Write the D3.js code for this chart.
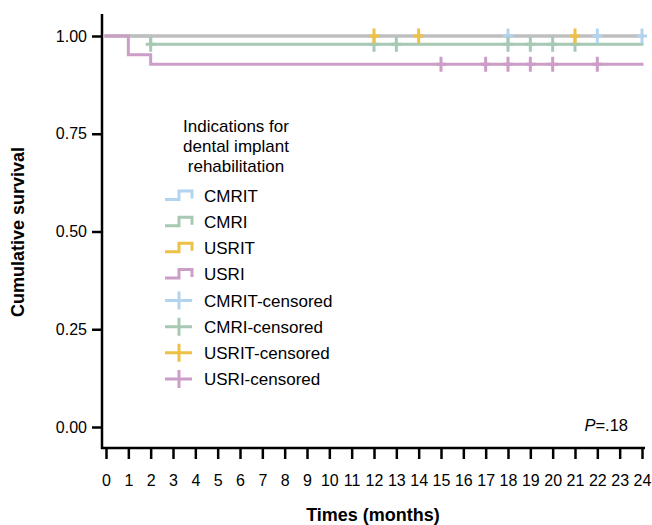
<!DOCTYPE html>
<html>
<head>
<meta charset="utf-8">
<script src="https://cdn.jsdelivr.net/npm/d3@7"></script>
<style>
  html, body { margin: 0; padding: 0; background: #fff; }
  svg { display: block; font-family: "Liberation Sans", Arial, Helvetica, sans-serif; }
</style>
</head>
<body>
<svg id="chart" width="652" height="525"></svg>
<script>
// ---------------- data ----------------
const xTickValues = [0,1,2,3,4,5,6,7,8,9,10,11,12,13,14,15,16,17,18,19,20,21,22,23,24];
const yTickValues = [0, 0.25, 0.5, 0.75, 1];
const followUpEnd = 24;

const seriesNames = ["CMRIT", "CMRI", "USRIT", "USRI"];

// step curves: event times and survival after each step
const cmritTimes = [0];
const cmritSurvival = [1.0];
const cmritCensored = [18, 22, 24];

const cmriTimes = [0, 2];
const cmriSurvival = [1.0, 0.979];
const cmriCensored = [2, 12, 13, 18, 19, 20, 21];

const usritTimes = [0];
const usritSurvival = [1.0];
const usritCensored = [12, 14, 21];

const usriTimes = [0, 1, 2];
const usriSurvival = [1.0, 0.952, 0.928];
const usriCensored = [15, 17, 18, 19, 20, 22];

const seriesColors = ["#b3d4ef", "#a7c9b3", "#edc145", "#cc9dc6"];
const overlapLineColor = "#bfbfbf"; // CMRIT & USRIT curves overlap at 1.00

const legendTitle = ["Indications for", "dental implant", "rehabilitation"];
const pValueText = "=.18";

// ---------------- build ----------------
const series = [
  {name: "CMRIT", times: cmritTimes, surv: cmritSurvival, cens: cmritCensored, color: seriesColors[0], line: overlapLineColor},
  {name: "CMRI",  times: cmriTimes,  surv: cmriSurvival,  cens: cmriCensored,  color: seriesColors[1], line: seriesColors[1]},
  {name: "USRIT", times: usritTimes, surv: usritSurvival, cens: usritCensored, color: seriesColors[2], line: overlapLineColor},
  {name: "USRI",  times: usriTimes,  surv: usriSurvival,  cens: usriCensored,  color: seriesColors[3], line: seriesColors[3]}
];

const svg = d3.select("#chart");
const x = d3.scaleLinear().domain([0, 24]).range([106, 642]);
const y = d3.scaleLinear().domain([0, 1]).range([427, 36]);

const axisX0 = 102, axisY0 = 448;

function survAt(s, t) {
  let v = s.surv[0];
  for (let i = 0; i < s.times.length; i++) if (s.times[i] <= t) v = s.surv[i];
  return v;
}

// curves
const line = d3.line().x(d => x(d[0])).y(d => y(d[1])).curve(d3.curveStepAfter);
const gCurves = svg.append("g");
series.forEach(s => {
  const pts = s.times.map((t, i) => [t, s.surv[i]]);
  pts.push([followUpEnd, s.surv[s.surv.length - 1]]);
  gCurves.append("path")
    .attr("d", line(pts))
    .attr("fill", "none")
    .attr("stroke", s.line)
    .attr("stroke-width", 3)
    .attr("stroke-linecap", "square");
});

// censor marks
const gCens = svg.append("g");
series.forEach(s => {
  gCens.selectAll(null).data(s.cens).enter().append("path")
    .attr("transform", t => `translate(${x(t)},${y(survAt(s, t))})`)
    .attr("d", "M-5,0H5M0,-7.5V7.5")
    .attr("fill", "none")
    .attr("stroke", s.color)
    .attr("stroke-width", 3);
});

// axes
const xAxis = d3.axisBottom(x).tickValues(xTickValues).tickFormat(d3.format("d"))
  .tickSize(11).tickPadding(16);
const gx = svg.append("g").attr("transform", `translate(0,${axisY0})`).call(xAxis);
gx.select(".domain").remove();
gx.selectAll(".tick line").attr("stroke", "#000").attr("stroke-width", 2.5);
gx.selectAll(".tick text").attr("font-size", 16).attr("fill", "#000")
  .attr("font-family", "Liberation Sans, Arial, sans-serif");

const yAxis = d3.axisLeft(y).tickValues(yTickValues).tickFormat(d3.format(".2f"))
  .tickSize(10).tickPadding(5);
const gy = svg.append("g").attr("transform", `translate(${axisX0},0)`).call(yAxis);
gy.select(".domain").remove();
gy.selectAll(".tick line").attr("stroke", "#000").attr("stroke-width", 2.5);
gy.selectAll(".tick text").attr("font-size", 16).attr("fill", "#000")
  .attr("font-family", "Liberation Sans, Arial, sans-serif");

// axis lines
svg.append("path")
  .attr("d", `M${axisX0},14V${axisY0}H645`)
  .attr("fill", "none").attr("stroke", "#000").attr("stroke-width", 2.5);

// axis titles
svg.append("text")
  .attr("transform", `translate(24,232) rotate(-90)`)
  .attr("text-anchor", "middle")
  .attr("font-size", 18).attr("font-weight", "bold")
  .text("Cumulative survival");
svg.append("text")
  .attr("x", 373).attr("y", 521)
  .attr("text-anchor", "middle")
  .attr("font-size", 18).attr("font-weight", "bold")
  .text("Times (months)");

// P value
const pt = svg.append("text").attr("x", 628).attr("y", 431)
  .attr("text-anchor", "end").attr("font-size", 16.5);
pt.append("tspan").attr("font-style", "italic").text("P");
pt.append("tspan").text(pValueText);

// legend
const gLeg = svg.append("g");
gLeg.selectAll(null).data(legendTitle).enter().append("text")
  .attr("x", 236).attr("y", (d, i) => 132 + i * 20)
  .attr("text-anchor", "middle").attr("font-size", 17)
  .text(d => d);

const legendItems = [];
series.forEach(s => legendItems.push({label: s.name, color: s.color, kind: "step"}));
series.forEach(s => legendItems.push({label: s.name + "-censored", color: s.color, kind: "cens"}));

const legRow = d3.scaleLinear().domain([0, 7]).range([196, 379]);
const items = gLeg.selectAll(".item").data(legendItems).enter().append("g")
  .attr("transform", (d, i) => `translate(0,${legRow(i)})`);
items.append("path")
  .attr("d", d => d.kind === "step" ? "M165,3.5H179V-5H192V2.5" : "M165,0H192M179,-9V9")
  .attr("fill", "none")
  .attr("stroke", d => d.color)
  .attr("stroke-width", 3);
items.append("text")
  .attr("x", 204).attr("y", 6)
  .attr("font-size", 17)
  .text(d => d.label);
</script>
</body>
</html>
